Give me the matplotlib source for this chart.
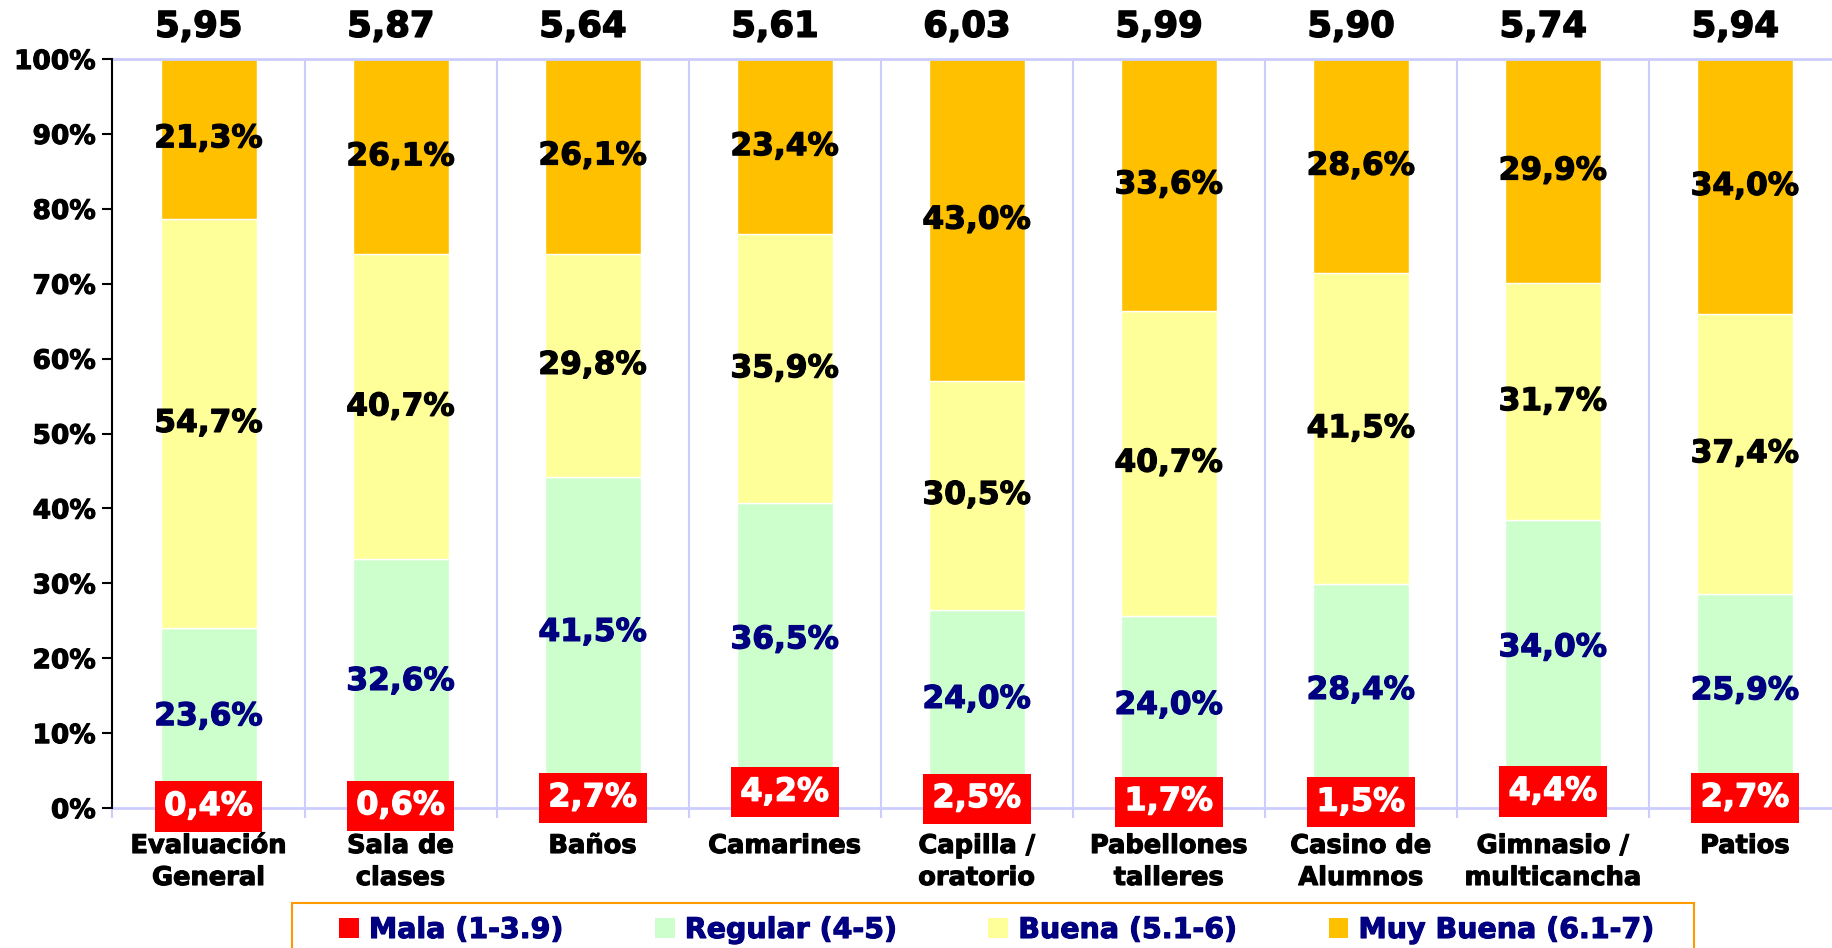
import numpy as np
import matplotlib
matplotlib.use('Agg')
import matplotlib.pyplot as plt
import matplotlib.patheffects as pe
from matplotlib.patches import Patch, Rectangle

W, H = 1833, 948

categorias = ['Evaluación\nGeneral', 'Sala de\nclases', 'Baños', 'Camarines', 'Capilla /\noratorio',
              'Pabellones\ntalleres', 'Casino de\nAlumnos', 'Gimnasio /\nmulticancha', 'Patios']
promedios = [5.95, 5.87, 5.64, 5.61, 6.03, 5.99, 5.90, 5.74, 5.94]
mala = [0.4, 0.6, 2.7, 4.2, 2.5, 1.7, 1.5, 4.4, 2.7]
regular = [23.6, 32.6, 41.5, 36.5, 24.0, 24.0, 28.4, 34.0, 25.9]
buena = [54.7, 40.7, 29.8, 35.9, 30.5, 40.7, 41.5, 31.7, 37.4]
muy_buena = [21.3, 26.1, 26.1, 23.4, 43.0, 33.6, 28.6, 29.9, 34.0]

series = ['Mala (1-3.9)', 'Regular (4-5)', 'Buena (5.1-6)', 'Muy Buena (6.1-7)']
colores = ['#FF0000', '#CCFFCC', '#FFFF99', '#FFC000']
lavanda = '#CCCCFF'
navy = '#000080'

plt.rcParams['font.family'] = ['DejaVu Sans']
plt.rcParams['font.weight'] = 'bold'


def pct(v):
    return f'{v:.1f}%'.replace('.', ',')


def grueso(c, w=0.9):
    # engrosar un poco el texto
    return [pe.withStroke(linewidth=w, foreground=c)]


fig = plt.figure(figsize=(W / 100, H / 100), dpi=100)
ax = fig.add_axes([112.5 / W, 1 - 808 / H, (1841 - 112.5) / W, (808 - 59) / H])

x = np.arange(len(categorias))
datos = [mala, regular, buena, muy_buena]
base = np.zeros(len(x))
for vals, col in zip(datos, colores):
    ax.bar(x, vals, 0.5, bottom=base, color=col, edgecolor='white', linewidth=1, zorder=2)
    base = base + np.array(vals)

# etiquetas dentro de las barras
base = np.zeros(len(x))
for k, vals in enumerate(datos):
    for i, v in enumerate(vals):
        yc = base[i] + v / 2
        if k == 0:
            ax.text(i, yc, pct(v), ha='center', va='center', fontsize=23, color='white',
                    fontweight='bold', zorder=5, clip_on=False, path_effects=grueso('white'),
                    bbox=dict(boxstyle='square,pad=0.3', fc='#FF0000', ec='none'))
        else:
            c = navy if k == 1 else 'black'
            ax.text(i, yc, pct(v), ha='center', va='center', fontsize=22.5, color=c,
                    fontweight='bold', zorder=4, path_effects=grueso(c))
    base = base + np.array(vals)

# promedios arriba
for i, p in enumerate(promedios):
    ax.annotate(f'{p:.2f}'.replace('.', ','), (i, 104.3), xytext=(-7, 0), textcoords='offset points',
                ha='center', va='center', fontsize=25.5, fontweight='bold',
                annotation_clip=False, path_effects=grueso('black', 1.1))

ax.set_xlim(-0.5, len(x) - 0.5)
ax.set_ylim(0, 100)
ax.set_yticks(np.arange(0, 101, 10))
ax.set_yticklabels([f'{t}%' for t in range(0, 101, 10)], fontsize=19, fontweight='bold')
ax.tick_params(axis='y', length=7, width=1.5, pad=5, color='black')
for t in ax.get_yticklabels():
    t.set_path_effects(grueso('black', 0.8))

ax.set_xticks(x)
ax.set_xticklabels(categorias, fontsize=18.5, fontweight='bold', linespacing=1.3)
ax.tick_params(axis='x', which='major', length=0, pad=18)
for t in ax.get_xticklabels():
    t.set_path_effects(grueso('black', 0.8))
ax.set_xticks(np.arange(-0.5, len(x), 1), minor=True)
ax.tick_params(axis='x', which='minor', length=7, width=1.5, color=lavanda)
ax.grid(axis='x', which='minor', color=lavanda, linewidth=1.5, zorder=0)
ax.set_axisbelow(True)

ax.spines['left'].set_color('black')
ax.spines['left'].set_linewidth(1.5)
ax.spines['left'].set_zorder(6)
for s in ['bottom', 'top']:
    ax.spines[s].set_color(lavanda)
    ax.spines[s].set_linewidth(2)
ax.spines['right'].set_visible(False)

# marco de la leyenda (se corta en el borde inferior, como en el original)
fig.patches.append(Rectangle((292 / W, -0.05), (1694 - 292) / W, 0.05 + 1 - 903 / H,
                             transform=fig.transFigure, fill=False, edgecolor='#FF9900',
                             linewidth=1.5))

handles = [Patch(facecolor=c, edgecolor='none') for c in colores]
leg = fig.legend(handles, series, loc='center left', bbox_to_anchor=(339 / W, 1 - 930 / H),
                 ncol=4, frameon=False, borderaxespad=0, borderpad=0,
                 handlelength=0.7, handleheight=0.7, handletextpad=0.35, columnspacing=3.2,
                 prop={'weight': 'bold', 'size': 20.5})
for t in leg.get_texts():
    t.set_color(navy)
    t.set_path_effects(grueso(navy, 0.8))

fig.savefig('out.png', dpi=100)
